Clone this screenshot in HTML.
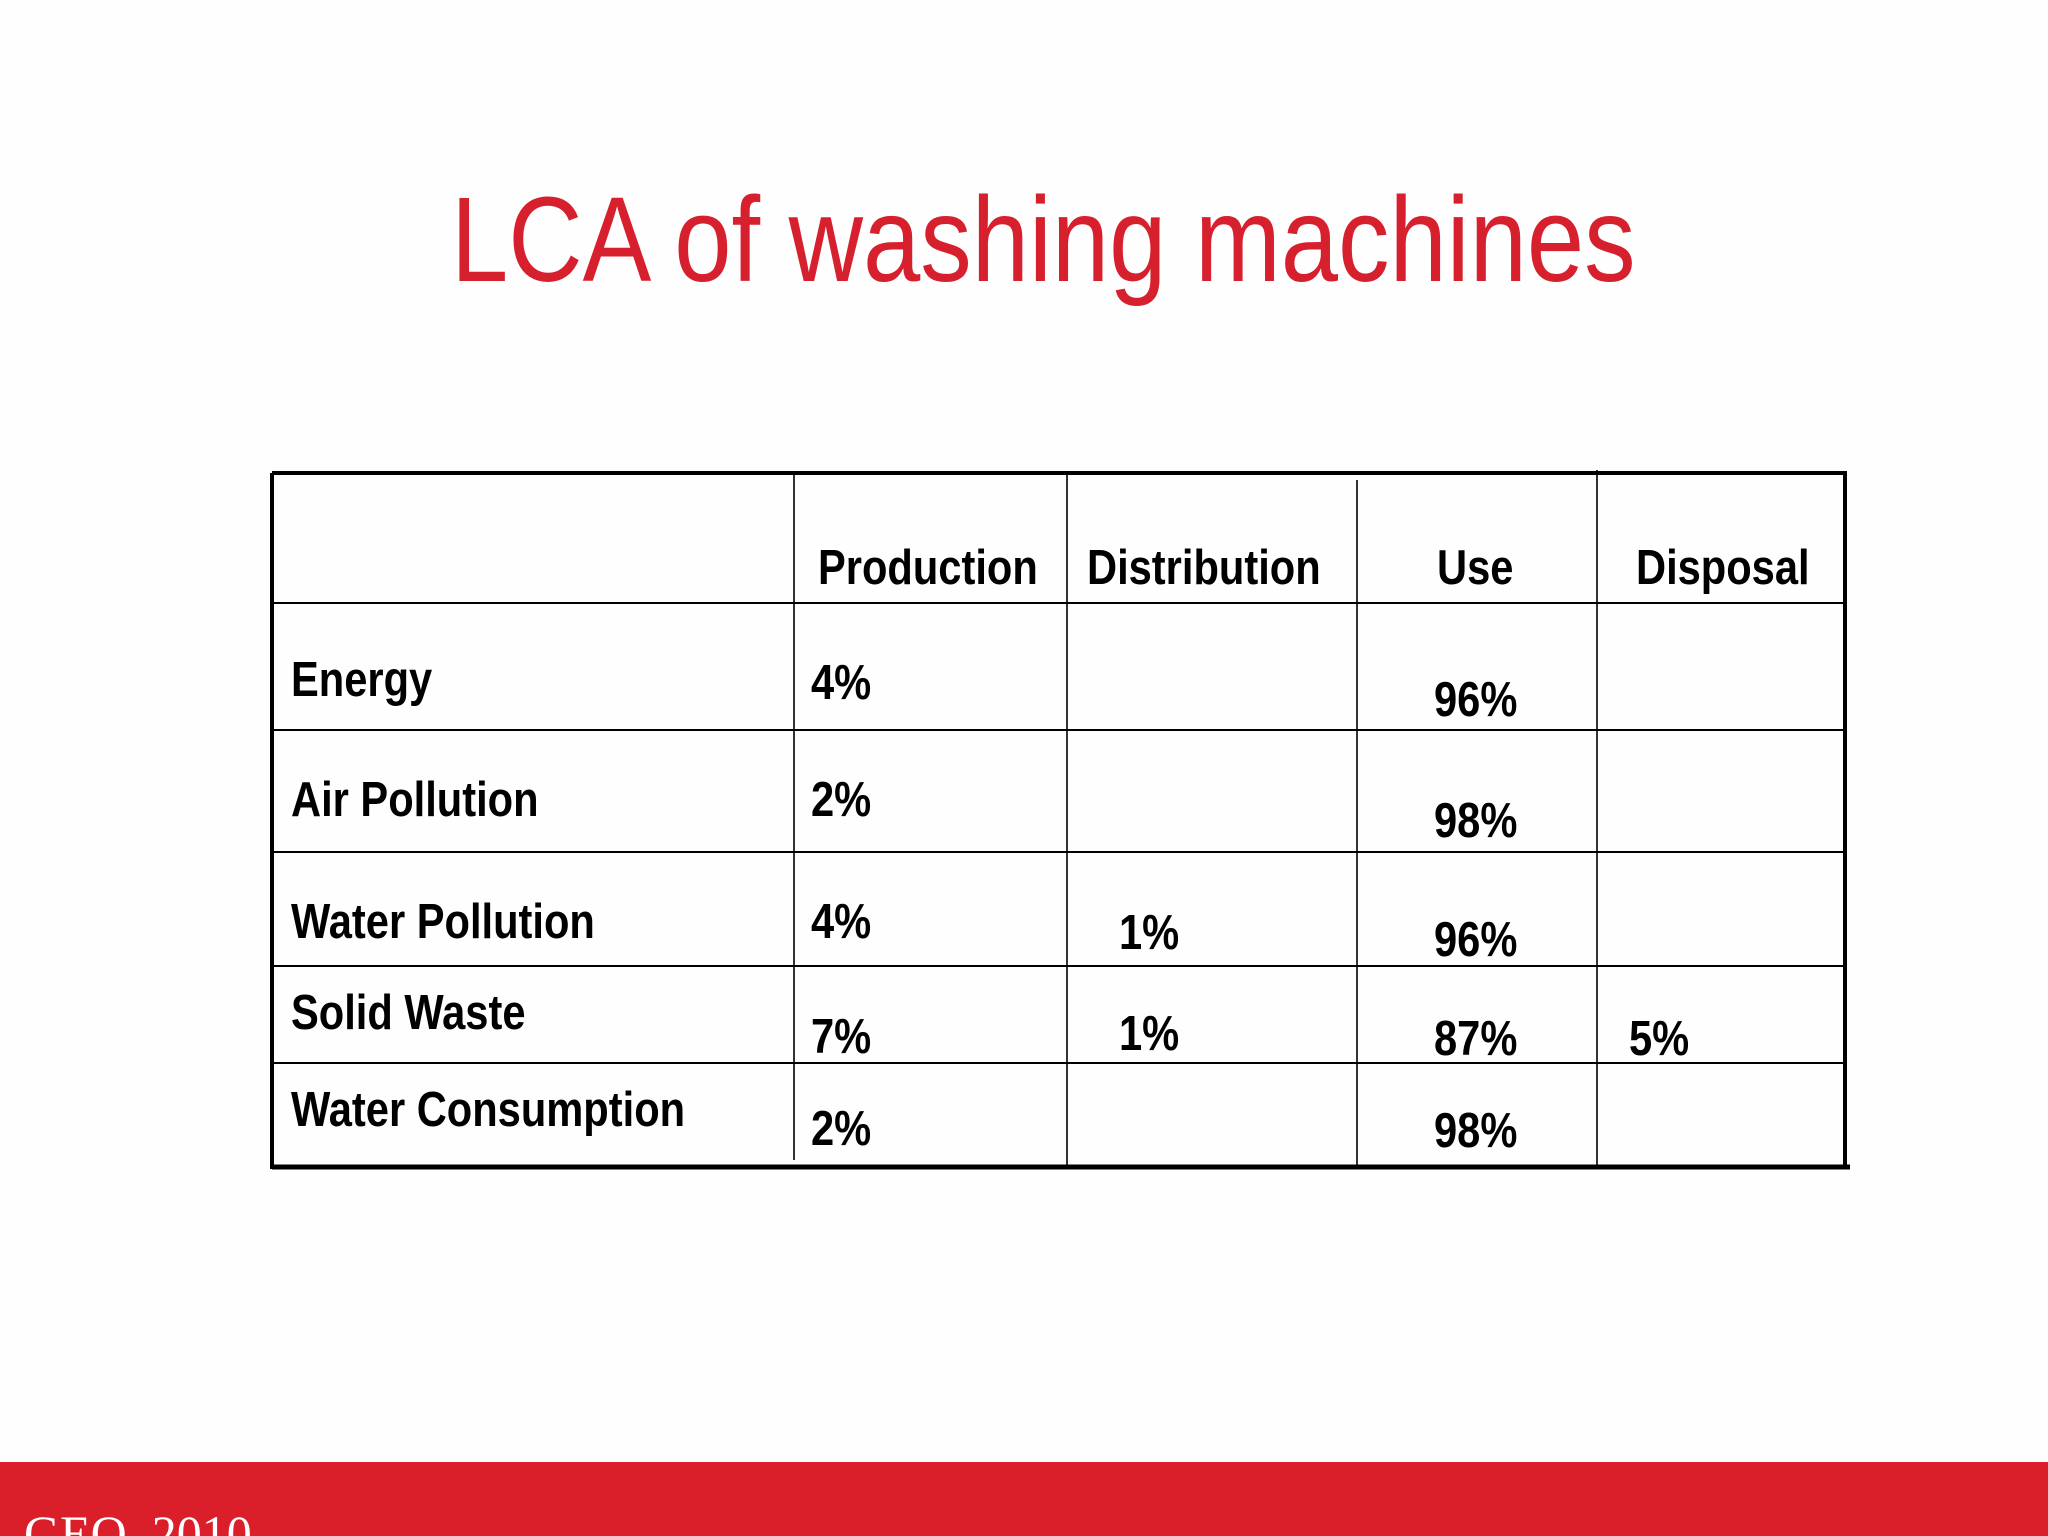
<!DOCTYPE html>
<html><head><meta charset="utf-8"><style>
html,body{margin:0;padding:0;width:2048px;height:1536px;background:#fefefe;overflow:hidden}
svg{display:block}
.t{font-family:"Liberation Sans",Arial,sans-serif;font-weight:bold;font-size:49px;fill:#000}
</style></head><body>
<svg width="2048" height="1536" viewBox="0 0 2048 1536">
<text transform="translate(451,281) scale(0.851,1)" font-family="Liberation Sans, Arial, sans-serif" font-size="121" fill="#d7202e">LCA of washing machines</text>
<g stroke="#000">
  <line x1="272" y1="473" x2="1847" y2="473" stroke-width="4"/>
  <line x1="272" y1="1167" x2="1850" y2="1167" stroke-width="5"/>
  <line x1="272" y1="473" x2="272" y2="1169" stroke-width="4"/>
  <line x1="1845" y1="473" x2="1845" y2="1169" stroke-width="4"/>
  <line x1="272" y1="603" x2="1845" y2="603" stroke-width="2"/>
  <line x1="272" y1="730" x2="1845" y2="730" stroke-width="2"/>
  <line x1="272" y1="852" x2="1845" y2="852" stroke-width="2"/>
  <line x1="272" y1="966" x2="1845" y2="966" stroke-width="2"/>
  <line x1="272" y1="1063" x2="1845" y2="1063" stroke-width="2"/>
  <line x1="794" y1="475" x2="794" y2="1160" stroke-width="1.6"/>
  <line x1="1067" y1="475" x2="1067" y2="1167" stroke-width="1.6"/>
  <line x1="1357" y1="480" x2="1357" y2="1167" stroke-width="1.6"/>
  <line x1="1597" y1="470" x2="1597" y2="1167" stroke-width="1.6"/>
</g>
<g class="t">
  <text class="t" transform="translate(818,584) scale(0.85,1)">Production</text>
  <text class="t" transform="translate(1087,584) scale(0.85,1)">Distribution</text>
  <text class="t" transform="translate(1437,584) scale(0.85,1)">Use</text>
  <text class="t" transform="translate(1636,584) scale(0.85,1)">Disposal</text>

  <text class="t" transform="translate(291,696) scale(0.85,1)">Energy</text>
  <text class="t" transform="translate(291,816) scale(0.85,1)">Air Pollution</text>
  <text class="t" transform="translate(291,938) scale(0.85,1)">Water Pollution</text>
  <text class="t" transform="translate(291,1029) scale(0.85,1)">Solid Waste</text>
  <text class="t" transform="translate(291,1126) scale(0.85,1)">Water Consumption</text>

  <text class="t" transform="translate(811,699) scale(0.85,1)">4%</text>
  <text class="t" transform="translate(811,816) scale(0.85,1)">2%</text>
  <text class="t" transform="translate(811,938) scale(0.85,1)">4%</text>
  <text class="t" transform="translate(811,1053) scale(0.85,1)">7%</text>
  <text class="t" transform="translate(811,1145) scale(0.85,1)">2%</text>

  <text class="t" transform="translate(1119,949) scale(0.85,1)">1%</text>
  <text class="t" transform="translate(1119,1050) scale(0.85,1)">1%</text>

  <text class="t" transform="translate(1434,716) scale(0.85,1)">96%</text>
  <text class="t" transform="translate(1434,837) scale(0.85,1)">98%</text>
  <text class="t" transform="translate(1434,956) scale(0.85,1)">96%</text>
  <text class="t" transform="translate(1434,1055) scale(0.85,1)">87%</text>
  <text class="t" transform="translate(1434,1147) scale(0.85,1)">98%</text>

  <text class="t" transform="translate(1629,1055) scale(0.85,1)">5%</text>
</g>
<rect x="0" y="1462" width="2048" height="74" fill="#db1f2a"/>
<text x="24" y="1550" font-family="Liberation Serif, serif" font-size="50" fill="#ffffff">GEO, 2010</text>
</svg>
</body></html>
